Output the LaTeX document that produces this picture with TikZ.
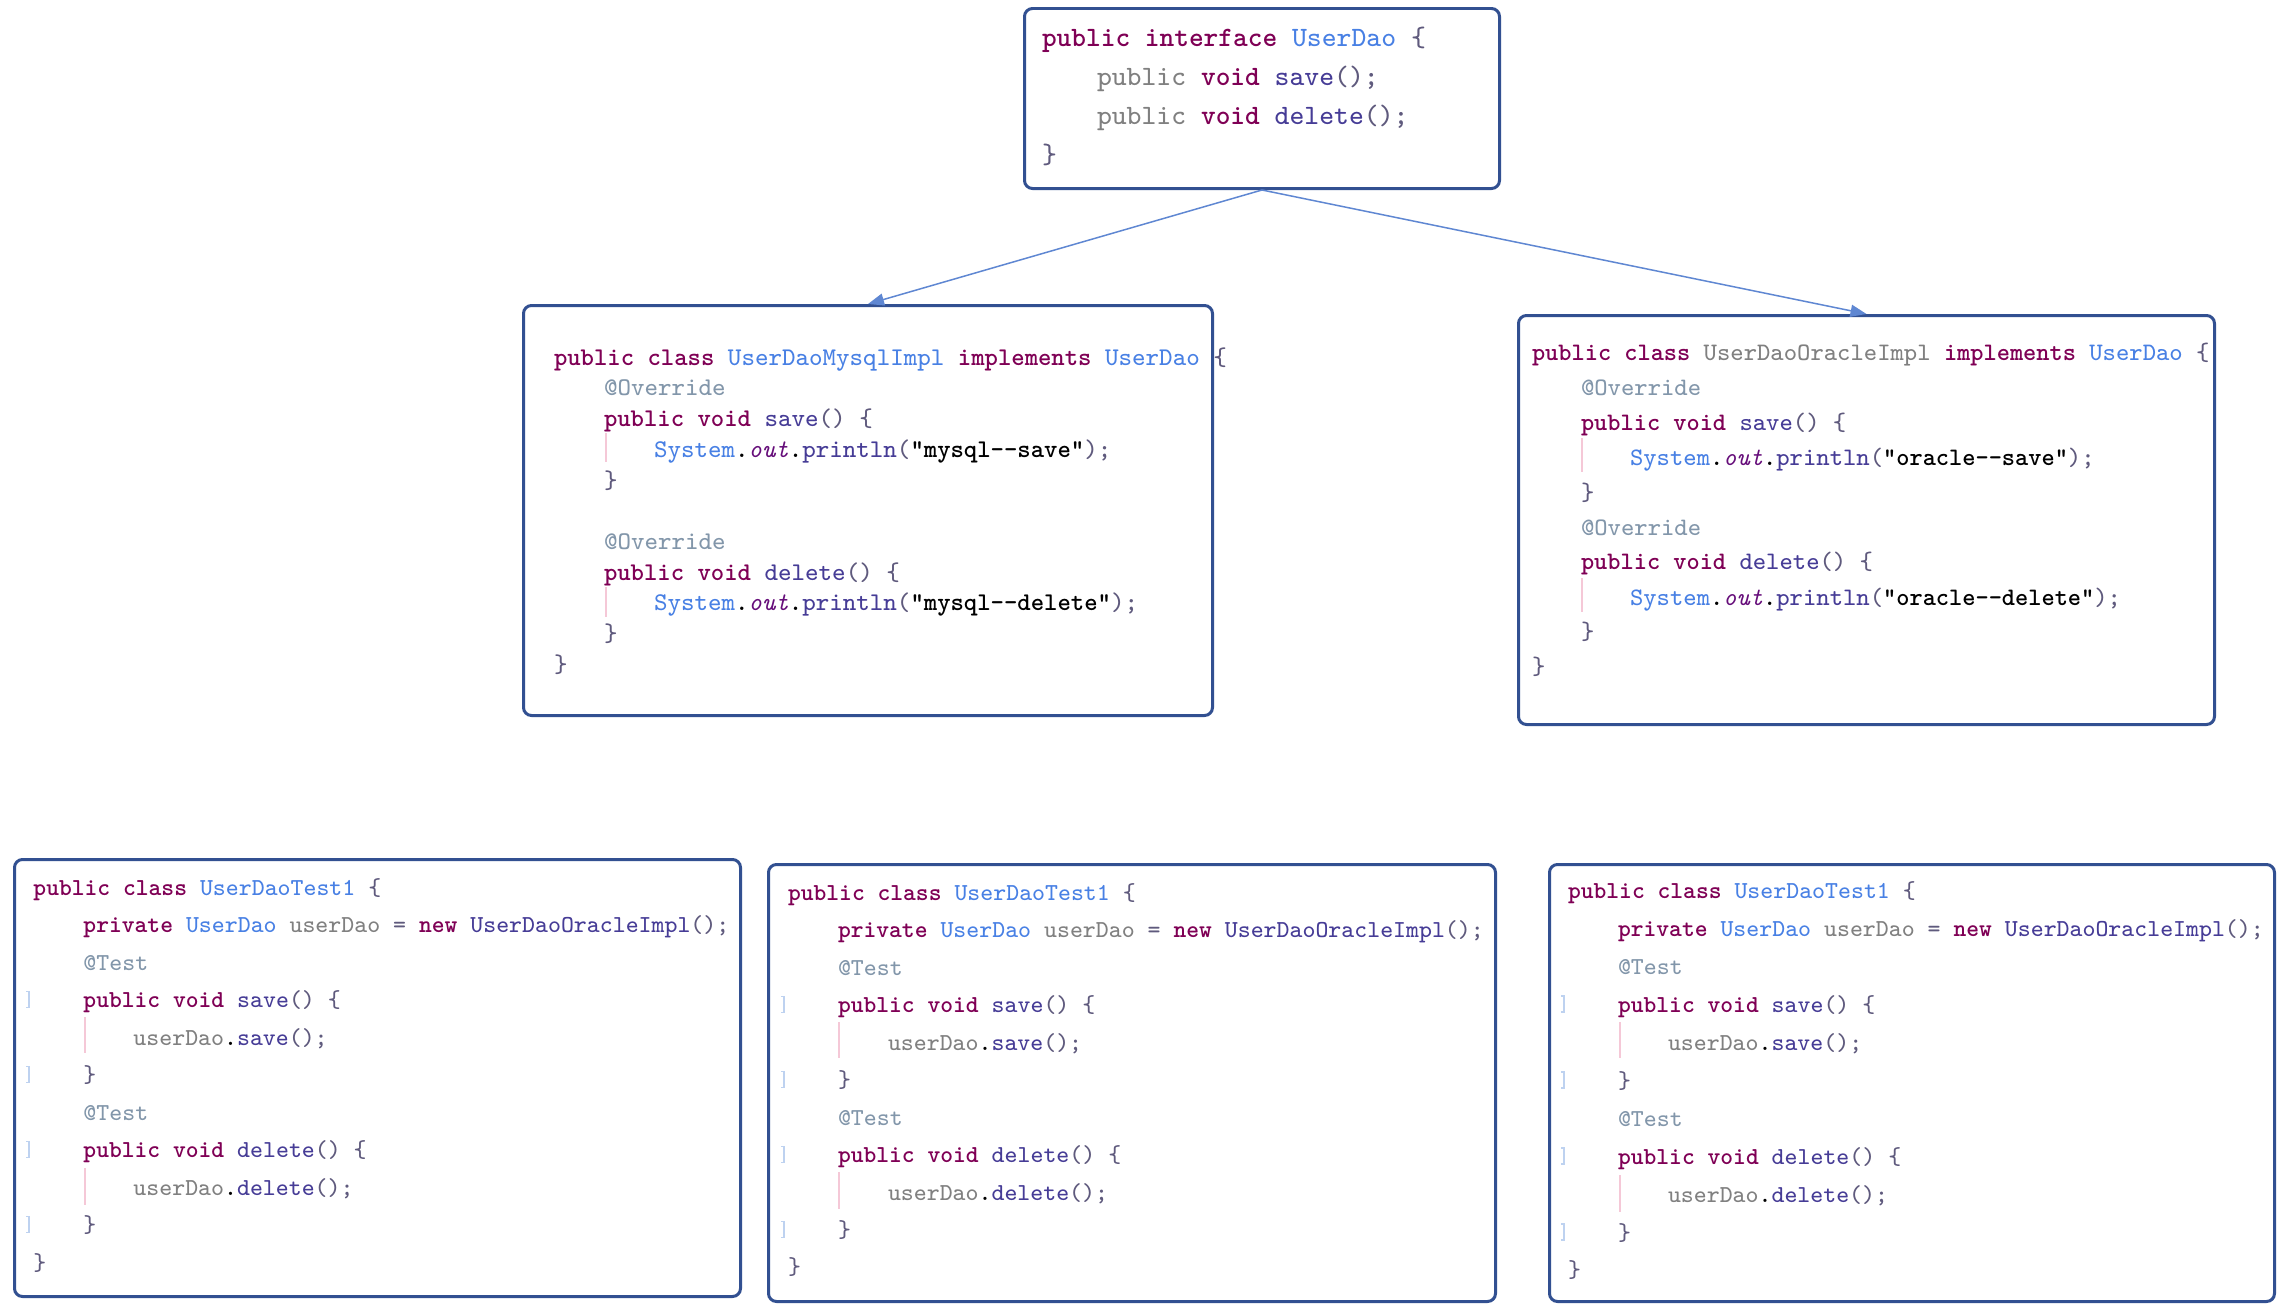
\documentclass[tikz,border=0pt]{standalone}
\usetikzlibrary{arrows.meta}
\newdimen\pxu \pxu=0.1mm
\newdimen\indw
\definecolor{cKw}{RGB}{127,0,85}
\definecolor{cCls}{RGB}{72,128,228}
\definecolor{cMth}{RGB}{70,60,150}
\definecolor{cGry}{RGB}{128,128,128}
\definecolor{cAnn}{RGB}{130,150,170}
\definecolor{cPun}{RGB}{95,90,125}
\definecolor{cFld}{RGB}{102,14,122}
\definecolor{cBox}{RGB}{50,80,145}
\definecolor{cArr}{RGB}{95,135,210}
\definecolor{cBar}{RGB}{245,200,215}
\definecolor{cFold}{RGB}{190,210,240}
\newcommand\kw[1]{\textcolor{cKw}{\bfseries #1}}
\newcommand\cls[1]{\textcolor{cCls}{#1}}
\newcommand\mth[1]{\textcolor{cMth}{#1}}
\newcommand\gry[1]{\textcolor{cGry}{#1}}
\newcommand\ann[1]{\textcolor{cAnn}{#1}}
\newcommand\pun[1]{\textcolor{cPun}{#1}}
\newcommand\fld[1]{\textcolor{cFld}{\itshape #1}}
\newcommand\strlit[1]{\textcolor{black}{\bfseries #1}}
\newcommand\codeln[1]{\hbox{#1}}
\newcommand\ia{\hskip\indw}
\newcommand\ib{\hskip2\indw}
\newcommand\dd{-\kern0pt-}
\newcommand\codeblock[4]{\vtop{\ttfamily\fontsize{#1}{#2}\selectfont
  \baselineskip=#2\relax\lineskiplimit=-\maxdimen\indw=#3\relax #4}}
\tikzset{
  codebox/.style={draw=cBox, line width=0.3mm, rounded corners=0.8mm,
    inner sep=0pt, anchor=north west},
  codetxt/.style={anchor=base west, inner sep=0pt, outer sep=0pt},
  conn/.style={draw=cArr, line width=0.15mm, -{Triangle[length=1.6mm,width=1.2mm]}},
  pinkbar/.style={draw=cBar, line width=0.12mm},
  foldmark/.style={draw=cFold, line width=0.12mm}
}
\newcommand\fold[2]{\draw[foldmark] (#1-3,#2-16) -- (#1,#2-16) -- (#1,#2) -- (#1-3,#2);}
\newcommand\testbody{%
  \codeln{\kw{public class} \cls{UserDaoTest1} \pun{\{}}
  \codeln{\ia\kw{private} \cls{UserDao} \gry{userDao} \pun{=} \kw{new} \mth{UserDaoOracleImpl}\pun{();}}
  \codeln{\ia\ann{@Test}}
  \codeln{\ia\kw{public void} \mth{save}\pun{() \{}}
  \codeln{\ib\gry{userDao}.\mth{save}\pun{();}}
  \codeln{\ia\pun{\}}}
  \codeln{\ia\ann{@Test}}
  \codeln{\ia\kw{public void} \mth{delete}\pun{() \{}}
  \codeln{\ib\gry{userDao}.\mth{delete}\pun{();}}
  \codeln{\ia\pun{\}}}
  \codeln{\pun{\}}}}
\begin{document}
\begin{tikzpicture}[x=0.1mm,y=-0.1mm]
\useasboundingbox (0,0) rectangle (2283,1312);
% boxes
\node[codebox, minimum width=475\pxu, minimum height=180\pxu] (top) at (1023,7) {};
\node[codebox, minimum width=689\pxu, minimum height=410\pxu] (midL) at (522,304) {};
\node[codebox, minimum width=696\pxu, minimum height=409\pxu] (midR) at (1517,314) {};
\node[codebox, minimum width=726\pxu, minimum height=437\pxu] (tA) at (13,858) {};
\node[codebox, minimum width=727\pxu, minimum height=437\pxu] (tB) at (767,863) {};
\node[codebox, minimum width=725\pxu, minimum height=437\pxu] (tC) at (1548,863) {};
% connectors
\draw[conn] (top.south) -- (midL.north);
\draw[conn] (top.south) -- (midR.north);
% top code
\node[codetxt] (topcode) at (1042,47) {\codeblock{2.8mm}{3.87mm}{55\pxu}{%
  \codeln{\kw{public interface} \cls{UserDao} \pun{\{}}
  \codeln{\ia\gry{public} \kw{void} \mth{save}\pun{();}}
  \codeln{\ia\gry{public} \kw{void} \mth{delete}\pun{();}}
  \codeln{\pun{\}}}}};
% mysql impl
\draw[pinkbar] (606,433) -- (606,462);
\draw[pinkbar] (606,587) -- (606,617);
\node[codetxt] (midLcode) at (554,365) {\codeblock{2.547mm}{3.075mm}{50\pxu}{%
  \codeln{\kw{public class} \cls{UserDaoMysqlImpl} \kw{implements} \cls{UserDao} \pun{\{}}
  \codeln{\ia\ann{@Override}}
  \codeln{\ia\kw{public void} \mth{save}\pun{() \{}}
  \codeln{\ib\cls{System}.\fld{out}.\mth{println}\pun{(}\strlit{"mysql\dd save"}\pun{);}}
  \codeln{\ia\pun{\}}}
  \codeln{}
  \codeln{\ia\ann{@Override}}
  \codeln{\ia\kw{public void} \mth{delete}\pun{() \{}}
  \codeln{\ib\cls{System}.\fld{out}.\mth{println}\pun{(}\strlit{"mysql\dd delete"}\pun{);}}
  \codeln{\ia\pun{\}}}
  \codeln{\pun{\}}}}};
% oracle impl
\draw[pinkbar] (1582,438) -- (1582,472);
\draw[pinkbar] (1582,578) -- (1582,612);
\node[codetxt] (midRcode) at (1532,360) {\codeblock{2.514mm}{3.5mm}{49\pxu}{%
  \codeln{\kw{public class} \gry{UserDaoOracleImpl} \kw{implements} \cls{UserDao} \pun{\{}}
  \codeln{\ia\ann{@Override}}
  \codeln{\ia\kw{public void} \mth{save}\pun{() \{}}
  \codeln{\ib\cls{System}.\fld{out}.\mth{println}\pun{(}\strlit{"oracle\dd save"}\pun{);}}
  \codeln{\ia\pun{\}}}
  \codeln{\ia\ann{@Override}}
  \codeln{\ia\kw{public void} \mth{delete}\pun{() \{}}
  \codeln{\ib\cls{System}.\fld{out}.\mth{println}\pun{(}\strlit{"oracle\dd delete"}\pun{);}}
  \codeln{\ia\pun{\}}}
  \codeln{\pun{\}}}}};
% test A
\draw[pinkbar] (85,1017) -- (85,1053);
\draw[pinkbar] (85,1168) -- (85,1205);
\fold{29}{1007.5}\fold{29}{1082.5}\fold{29}{1157.5}\fold{29}{1232.5}
\node[codetxt] (tAcode) at (33.5,895) {\codeblock{2.438mm}{3.75mm}{50\pxu}{\testbody}};
% test B
\draw[pinkbar] (839,1022) -- (839,1058);
\draw[pinkbar] (839,1172) -- (839,1209);
\fold{784}{1012.5}\fold{784}{1087.5}\fold{784}{1162.5}\fold{784}{1237.5}
\node[codetxt] (tBcode) at (788,900) {\codeblock{2.438mm}{3.75mm}{50\pxu}{\testbody}};
% test C
\draw[pinkbar] (1620,1022) -- (1620,1058);
\draw[pinkbar] (1620,1175) -- (1620,1212);
\fold{1564}{1012}\fold{1564}{1088}\fold{1564}{1164}\fold{1564}{1240}
\node[codetxt] (tCcode) at (1568,898) {\codeblock{2.438mm}{3.8mm}{50\pxu}{\testbody}};
\end{tikzpicture}
\end{document}
